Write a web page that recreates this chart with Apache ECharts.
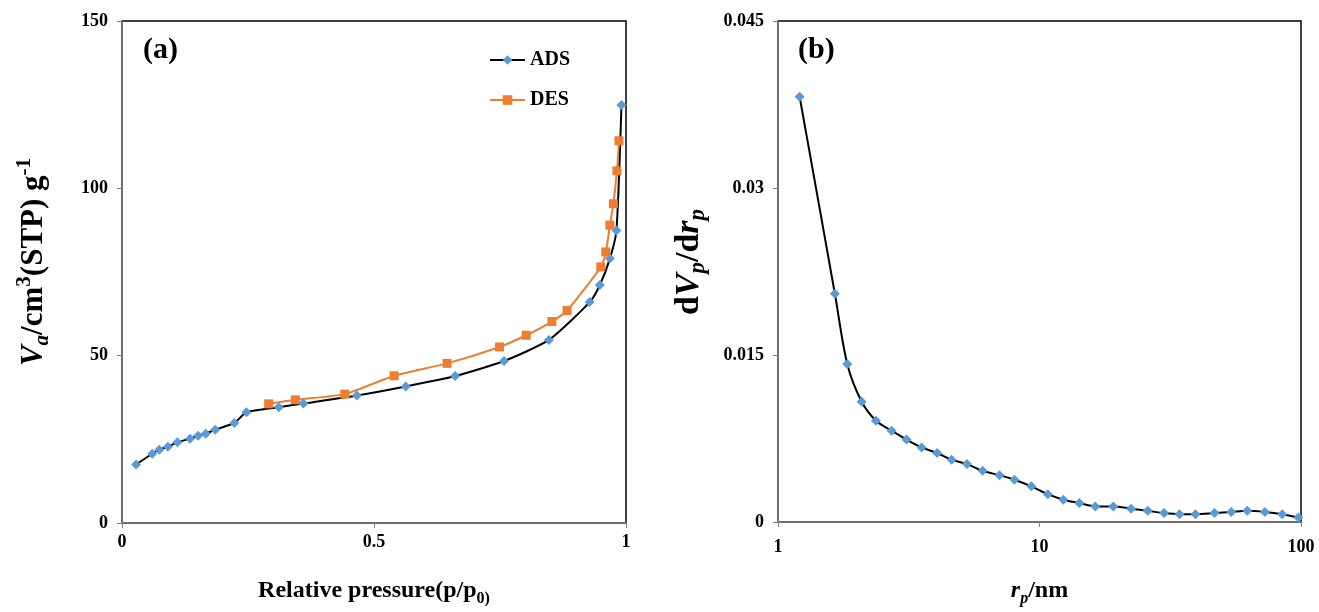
<!DOCTYPE html>
<html>
<head>
<meta charset="utf-8">
<script src="https://cdn.jsdelivr.net/npm/echarts@6/dist/echarts.min.js"></script>
<style>
  html, body { margin: 0; padding: 0; background: #fff; }
  #main { width: 1319px; height: 612px; }
</style>
</head>
<body>
<div id="main"></div>
<script>
// (a) isotherm
var adsP = [0.028, 0.060, 0.074, 0.091, 0.110, 0.135, 0.151, 0.166, 0.185, 0.223, 0.247, 0.311, 0.360, 0.466, 0.563, 0.661, 0.758, 0.847, 0.928, 0.948, 0.968, 0.981, 0.991];
var adsV = [17.5, 20.7, 21.9, 22.8, 24.1, 25.2, 26.1, 26.7, 27.9, 29.9, 33.1, 34.6, 35.7, 38.1, 40.8, 43.9, 48.4, 54.7, 66.0, 71.1, 79.0, 87.4, 124.9];
var desP = [0.291, 0.344, 0.442, 0.540, 0.645, 0.749, 0.802, 0.853, 0.883, 0.950, 0.960, 0.968, 0.975, 0.982, 0.986];
var desV = [35.6, 36.8, 38.5, 44.0, 47.7, 52.6, 56.1, 60.2, 63.5, 76.5, 81.0, 89.0, 95.4, 105.2, 114.2];
// (b) pore size distribution
var poreR = [1.21, 1.65, 1.84, 2.09, 2.37, 2.72, 3.10, 3.54, 4.06, 4.61, 5.28, 6.06, 7.03, 8.02, 9.31, 10.76, 12.33, 14.2, 16.34, 19.15, 22.39, 25.93, 29.95, 34.3, 39.5, 46.7, 54.1, 62.3, 72.8, 84.8, 97.7];
var poreD = [0.0382, 0.0205, 0.0142, 0.0108, 0.0091, 0.0082, 0.0074, 0.0067, 0.0062, 0.0056, 0.0052, 0.0046, 0.0042, 0.0038, 0.0032, 0.0025, 0.0020, 0.0017, 0.0014, 0.0014, 0.0012, 0.0010, 0.0008, 0.0007, 0.0007, 0.0008, 0.0009, 0.0010, 0.0009, 0.0007, 0.0004];

var FONT = 'Liberation Serif';
var BLUE = '#5b9bd5';
var ORANGE = '#ed7d31';

function pairs(xs, ys) {
  return xs.map(function (x, i) { return [x, ys[i]]; });
}

var tickLabel = { color: '#000', fontFamily: FONT, fontWeight: 'bold', fontSize: 18 };
var axisLine = { lineStyle: { color: '#7f7f7f', width: 1.5 } };
var axisTick = { lineStyle: { color: '#7f7f7f' }, length: 5 };

// rich styles for axis titles (italic, sub, sup)
function richSet(size, small) {
  var base = { fontFamily: FONT, fontWeight: 'bold', fill: '#000', color: '#000' };
  return {
    n: Object.assign({ fontSize: size, lineHeight: size + 8 }, base),
    it: Object.assign({ fontSize: size, fontStyle: 'italic', lineHeight: size + 8 }, base),
    sup: Object.assign({ fontSize: small, verticalAlign: 'top', lineHeight: small }, base),
    sub: Object.assign({ fontSize: small, verticalAlign: 'bottom', lineHeight: small - 2 }, base),
    subit: Object.assign({ fontSize: small, fontStyle: 'italic', verticalAlign: 'bottom', lineHeight: small - 2 }, base)
  };
}
var xRich = richSet(24, 16);

var myChart = echarts.init(document.getElementById('main'));
var option = {
  animation: false,
  backgroundColor: '#fff',
  title: [
    { text: '(a)', left: 138, top: 30, textStyle: { fontFamily: FONT, fontWeight: 'bold', fontSize: 30, color: '#000' } },
    { text: '(b)', left: 793, top: 30, textStyle: { fontFamily: FONT, fontWeight: 'bold', fontSize: 30, color: '#000' } }
  ],
  // rotated y titles
  graphic: [
    {
      type: 'text', x: 34, y: 262, rotation: Math.PI / 2,
      style: {
        text: '{it|V}{subit|a}{n|/cm}{sup|3}{n|(STP) g}{sup|-1}',
        rich: richSet(31, 21), align: 'center', verticalAlign: 'middle'
      }
    },
    {
      type: 'text', x: 689, y: 262, rotation: Math.PI / 2,
      style: {
        text: '{n|d}{it|V}{subit|p}{n|/d}{it|r}{subit|p}',
        rich: richSet(34, 23), align: 'center', verticalAlign: 'middle'
      }
    }
  ],
  legend: {
    orient: 'vertical',
    left: 484,
    top: 45,
    itemGap: 20,
    itemWidth: 35,
    itemHeight: 12,
    textStyle: { fontFamily: FONT, fontWeight: 'bold', fontSize: 20, color: '#000' },
    data: ['ADS', 'DES']
  },
  grid: [
    { left: 122, right: 693, top: 21, bottom: 76, show: true, borderColor: '#000', borderWidth: 1.5 },
    { left: 778, right: 18, top: 21, bottom: 81, show: true, borderColor: '#000', borderWidth: 1.5 }
  ],
  xAxis: [
    {
      gridIndex: 0, type: 'value', min: 0, max: 1, interval: 0.5,
      splitLine: { show: false }, axisLine: axisLine, axisTick: axisTick,
      axisLabel: Object.assign({ margin: 10 }, tickLabel),
      name: '{n|Relative pressure(p/p}{sub|0}{sub|)}', nameLocation: 'middle', nameGap: 52,
      nameTextStyle: { rich: xRich }
    },
    {
      gridIndex: 1, type: 'log', logBase: 10, min: 1, max: 100,
      splitLine: { show: false }, minorTick: { show: false }, axisLine: axisLine, axisTick: axisTick,
      axisLabel: Object.assign({ margin: 16 }, tickLabel),
      name: '{it|r}{subit|p}{n|/nm}', nameLocation: 'middle', nameGap: 53,
      nameTextStyle: { rich: xRich }
    }
  ],
  yAxis: [
    {
      gridIndex: 0, type: 'value', min: 0, max: 150, interval: 50,
      splitLine: { show: false }, axisLine: axisLine, axisTick: axisTick,
      axisLabel: Object.assign({ margin: 14 }, tickLabel)
    },
    {
      gridIndex: 1, type: 'value', min: 0, max: 0.045, interval: 0.015,
      splitLine: { show: false }, axisLine: axisLine, axisTick: axisTick,
      axisLabel: Object.assign({
        margin: 14,
        formatter: function (v) { return v === 0 ? '0' : String(+v.toFixed(3)); }
      }, tickLabel)
    }
  ],
  series: [
    {
      name: 'ADS', type: 'line', xAxisIndex: 0, yAxisIndex: 0,
      data: pairs(adsP, adsV), smooth: 0.2,
      symbol: 'diamond', symbolSize: 10,
      itemStyle: { color: BLUE },
      lineStyle: { color: '#000', width: 2 }
    },
    {
      name: 'DES', type: 'line', xAxisIndex: 0, yAxisIndex: 0,
      data: pairs(desP, desV), smooth: 0.2,
      symbol: 'rect', symbolSize: 9,
      itemStyle: { color: ORANGE },
      lineStyle: { color: ORANGE, width: 2 }
    },
    {
      name: 'PSD', type: 'line', xAxisIndex: 1, yAxisIndex: 1,
      data: pairs(poreR, poreD), smooth: 0.3,
      symbol: 'diamond', symbolSize: 10,
      itemStyle: { color: BLUE },
      lineStyle: { color: '#000', width: 2 }
    }
  ]
};
myChart.setOption(option);
</script>
</body>
</html>
